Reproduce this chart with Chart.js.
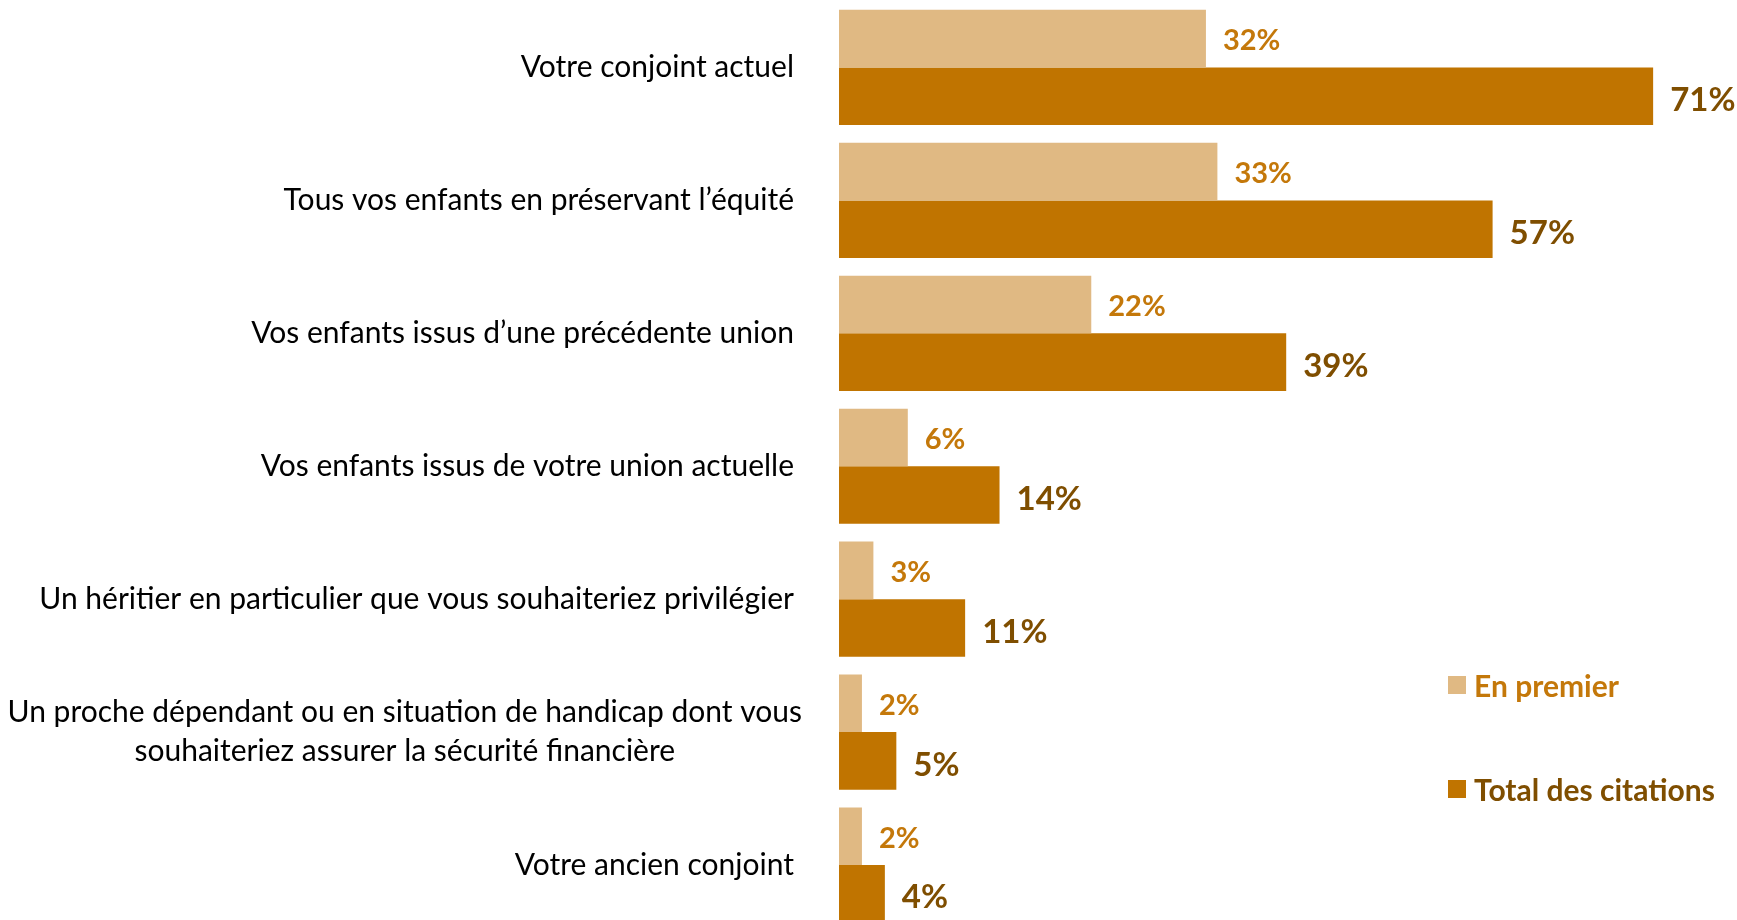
<!DOCTYPE html>
<html lang="fr">
<head>
<meta charset="utf-8">
<title>Bénéficiaires</title>
<script src="https://cdn.jsdelivr.net/npm/chart.js@4/dist/chart.umd.min.js"></script>
<style>
  html, body { margin: 0; padding: 0; background: #fff; overflow: hidden; }
  #wrap { position: relative; width: 1737px; height: 933px; }
  #legend { position: absolute; left: 1448px; top: 0; font-family: Lato, sans-serif; font-weight: bold; font-size: 30px; }
  .item { position: absolute; left: 0; white-space: nowrap; display: flex; align-items: center; }
  .box { width: 18px; height: 18px; margin-right: 8px; }
</style>
</head>
<body>
<div id="wrap">
  <canvas id="bar_chart"></canvas>
  <div id="legend"></div>
</div>
<script>
const categories = [
  "Votre conjoint actuel",
  "Tous vos enfants en préservant l’équité",
  "Vos enfants issus d’une précédente union",
  "Vos enfants issus de votre union actuelle",
  "Un héritier en particulier que vous souhaiteriez privilégier",
  ["Un proche dépendant ou en situation de handicap dont vous", "souhaiteriez assurer la sécurité financière"],
  "Votre ancien conjoint"
];
const enPremier = [32, 33, 22, 6, 3, 2, 2];
const totalCitations = [71, 57, 39, 14, 11, 5, 4];
const seriesNames = ["En premier", "Total des citations"];

const barColors = ["#E0B983", "#C07400"];
const textColors = ["#C4780A", "#7F4E00"];

// value labels next to each bar
const valueLabels = {
  id: "valueLabels",
  afterDatasetsDraw(chart) {
    const ctx = chart.ctx;
    ctx.save();
    chart.data.datasets.forEach((ds, i) => {
      const meta = chart.getDatasetMeta(i);
      ctx.font = "bold " + (i === 0 ? 29 : 33) + "px Lato, sans-serif";
      ctx.fillStyle = textColors[i];
      ctx.textAlign = "left";
      ctx.textBaseline = "middle";
      meta.data.forEach((bar, j) => {
        ctx.fillText(ds.data[j] + "%", bar.x + 17, bar.y + (i === 0 ? 2 : 4));
      });
    });
    ctx.restore();
  }
};

// category names on the left, placed with the y scale
const categoryLabels = {
  id: "categoryLabels",
  afterDraw(chart) {
    const ctx = chart.ctx;
    const y = chart.scales.y;
    const right = chart.chartArea.left - 45;
    ctx.save();
    ctx.font = "30px Lato, sans-serif";
    ctx.fillStyle = "#000";
    ctx.textBaseline = "middle";
    categories.forEach((label, i) => {
      const lines = Array.isArray(label) ? label : [label];
      const widths = lines.map((l) => ctx.measureText(l).width);
      const w = Math.max(...widths);
      const cy = y.getPixelForValue(i);
      const lh = 39;
      lines.forEach((l, k) => {
        const ly = cy + (k - (lines.length - 1) / 2) * lh;
        ctx.textAlign = "center";
        ctx.fillText(l, right - w / 2 + (lines.length > 1 ? 8 : 0), ly);
      });
    });
    ctx.restore();
  }
};

const ctx = document.getElementById("bar_chart").getContext("2d");
const chart = new Chart(ctx, {
  type: "bar",
  data: {
    labels: categories,
    datasets: [
      {
        label: seriesNames[0],
        data: enPremier,
        backgroundColor: barColors[0],
        borderWidth: 0,
        barPercentage: 1,
        categoryPercentage: 0.867
      },
      {
        label: seriesNames[1],
        data: totalCitations,
        backgroundColor: barColors[1],
        borderWidth: 0,
        barPercentage: 1,
        categoryPercentage: 0.867
      }
    ]
  },
  options: {
    indexAxis: "y",
    responsive: true,
    maintainAspectRatio: false,
    animation: false,
    layout: { padding: { left: 839, right: 38, top: 1, bottom: 1.5 } },
    scales: {
      x: { display: false, min: 0, max: 75 },
      y: { display: false }
    },
    plugins: {
      legend: { display: false },
      tooltip: { enabled: false }
    }
  },
  plugins: [valueLabels, categoryLabels]
});

// legend built from the datasets
const legendTops = [685, 789];
const legend = document.getElementById("legend");
chart.data.datasets.forEach((ds, i) => {
  const item = document.createElement("div");
  item.className = "item";
  item.style.top = (legendTops[i] - 19) + "px";
  item.style.height = "38px";
  item.style.color = textColors[i];
  item.innerHTML = '<span class="box" style="background:' + ds.backgroundColor + '"></span>' + ds.label;
  legend.appendChild(item);
});
</script>
</body>
</html>
